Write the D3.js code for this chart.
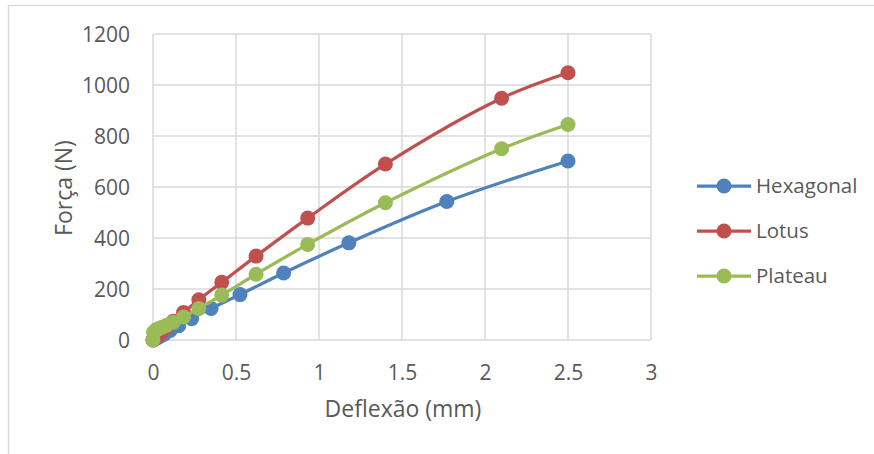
<!DOCTYPE html>
<meta charset="utf-8">
<html>
  <head>
    <style>
      body { margin: 0; background: #fff; }
      text { font-family: "Open Sans", sans-serif; fill: #595959; }
      .axis path, .axis line { display: none; }
      .axis text { font-size: 21px; font-family: "Open Sans", sans-serif; fill: #595959; }
      .grid line { stroke: #d9d9d9; stroke-width: 1.5px; }
    </style>
    <script src="https://d3js.org/d3.v7.min.js"></script>
  </head>
  <body>
<div id="my_dataviz"></div>

<script type="text/javascript">
// series
var seriesNames = ["Hexagonal", "Lotus", "Plateau"];
var seriesColors = ["#4f81bd", "#c0504d", "#9bbb59"];

var hexX = [0, 0.009, 0.014, 0.02, 0.031, 0.046, 0.069, 0.104, 0.155, 0.233, 0.35, 0.524, 0.787, 1.18, 1.77, 2.5];
var hexY = [0, 3, 5, 7, 11, 16, 24, 37, 56, 84, 124, 178, 263, 381, 543, 702];

var lotusX = [0, 0.016, 0.024, 0.036, 0.055, 0.082, 0.123, 0.184, 0.276, 0.414, 0.621, 0.932, 1.4, 2.1, 2.5];
var lotusY = [0, 10, 15, 22, 33, 50, 74, 108, 158, 226, 329, 478, 690, 948, 1048];

var plateauX = [0, 0.003, 0.016, 0.024, 0.036, 0.055, 0.082, 0.123, 0.184, 0.276, 0.414, 0.621, 0.932, 1.4, 2.1, 2.5];
var plateauY = [0, 30, 38, 41, 45, 50, 58, 70, 90, 124, 176, 258, 375, 538, 750, 845];

var xTicks = [0, 0.5, 1, 1.5, 2, 2.5, 3];
var yTicks = [0, 200, 400, 600, 800, 1000, 1200];

// plot area
var margin = {top: 34, left: 153},
  width = 651 - 153,
  height = 340 - 34;

var svg = d3.select("#my_dataviz")
  .append("svg")
  .attr("width", 874)
  .attr("height", 454);

// chart border
svg.append("rect")
  .attr("x", 8.5).attr("y", 5.5)
  .attr("width", 880).attr("height", 470)
  .attr("fill", "none")
  .attr("stroke", "#d9d9d9")
  .attr("stroke-width", 1.5);

var g = svg.append("g")
  .attr("transform", "translate(" + margin.left + "," + margin.top + ")");

var x = d3.scaleLinear().domain([0, 3]).range([0, width]);
var y = d3.scaleLinear().domain([0, 1200]).range([height, 0]);

// gridlines
g.append("g").attr("class", "grid")
  .selectAll("line.h").data(yTicks).enter().append("line")
  .attr("x1", 0).attr("x2", width)
  .attr("y1", function(d) { return y(d); })
  .attr("y2", function(d) { return y(d); });
g.append("g").attr("class", "grid")
  .selectAll("line.v").data(xTicks).enter().append("line")
  .attr("y1", 0).attr("y2", height)
  .attr("x1", function(d) { return x(d); })
  .attr("x2", function(d) { return x(d); });

// axes (labels only)
g.append("g").attr("class", "axis")
  .attr("transform", "translate(0," + height + ")")
  .call(d3.axisBottom(x).tickValues(xTicks).tickFormat(d3.format("")).tickSize(0).tickPadding(40))
  .selectAll("text").attr("dy", "0");

g.append("g").attr("class", "axis")
  .call(d3.axisLeft(y).tickValues(yTicks).tickFormat(d3.format("d")).tickSize(0).tickPadding(23))
  .selectAll("text").attr("dy", "0.35em");

// axis titles
svg.append("text")
  .attr("x", 403).attr("y", 417)
  .style("text-anchor", "middle")
  .style("font-size", "23px")
  .text("Deflexão (mm)");

svg.append("text")
  .attr("transform", "translate(72,188) rotate(-90)")
  .style("text-anchor", "middle")
  .style("font-size", "23px")
  .text("Força (N)");

// series
var seriesData = [
  d3.zip(hexX, hexY),
  d3.zip(lotusX, lotusY),
  d3.zip(plateauX, plateauY)
];

var line = d3.line()
  .x(function(d) { return x(d[0]); })
  .y(function(d) { return y(d[1]); })
  .curve(d3.curveCatmullRom.alpha(0.5));

seriesData.forEach(function(pts, i) {
  g.append("path")
    .datum(pts)
    .attr("fill", "none")
    .attr("stroke", seriesColors[i])
    .attr("stroke-width", 3.25)
    .attr("stroke-linecap", "round")
    .attr("d", line);
  g.selectAll(null)
    .data(pts)
    .enter()
    .append("circle")
    .attr("cx", function(d) { return x(d[0]); })
    .attr("cy", function(d) { return y(d[1]); })
    .attr("r", 7.5)
    .attr("fill", seriesColors[i]);
});

// legend
var legend = svg.append("g");
seriesNames.forEach(function(name, i) {
  var ly = 186 + i * 45;
  legend.append("line")
    .attr("x1", 697).attr("x2", 751)
    .attr("y1", ly).attr("y2", ly)
    .attr("stroke", seriesColors[i])
    .attr("stroke-width", 3.25);
  legend.append("circle")
    .attr("cx", 724).attr("cy", ly).attr("r", 7.5)
    .attr("fill", seriesColors[i]);
  legend.append("text")
    .attr("x", 756).attr("y", ly)
    .attr("dy", "0.35em")
    .style("font-size", "20.5px")
    .text(name);
});
</script>
</body>
</html>
